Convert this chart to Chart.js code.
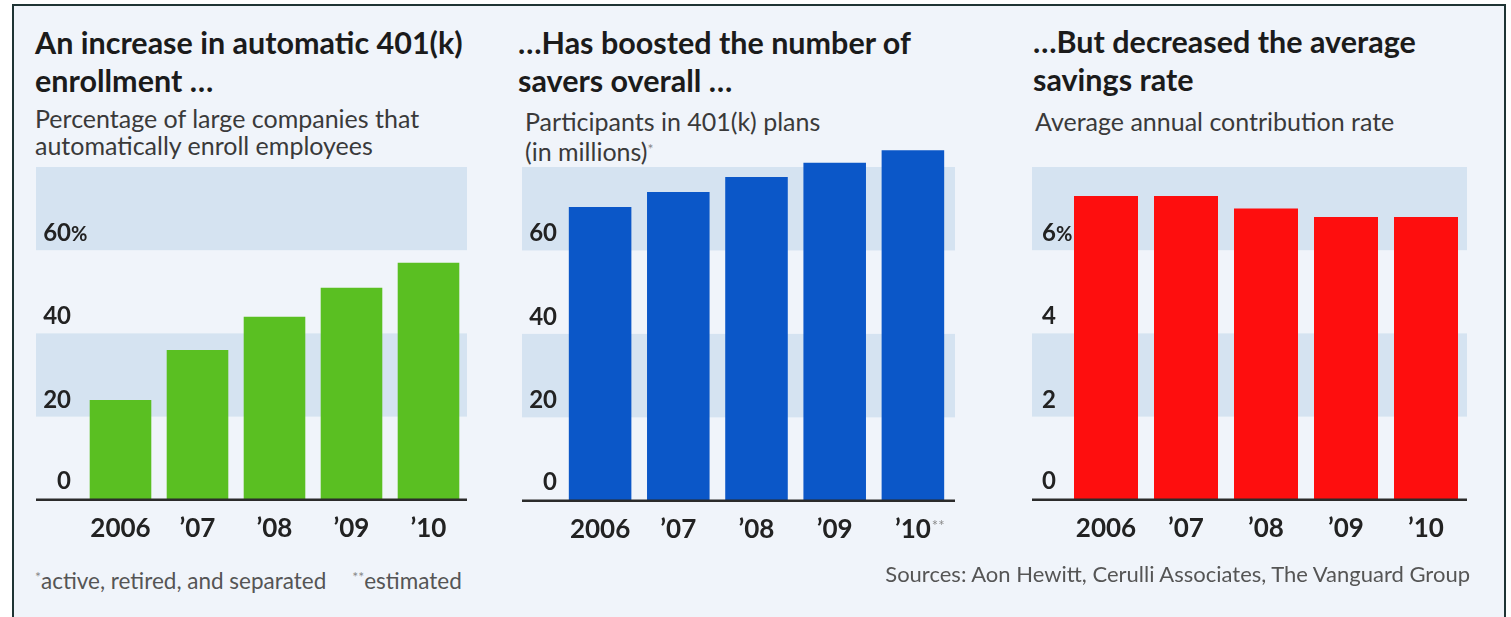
<!DOCTYPE html>
<html>
<head>
<meta charset="utf-8">
<script src="https://cdn.jsdelivr.net/npm/chart.js@4.4.0/dist/chart.umd.min.js"></script>
<style>
  body { margin: 0; background: #fff; font-family: Lato, "Open Sans", sans-serif; }
  #page { position: relative; width: 1511px; height: 617px; overflow: hidden; background: #fff; }
  #frame { position: absolute; left: 12px; top: 4px; width: 1490px; height: 640px; border: 2px solid #1f3434; background: #f0f4fa; }
  .box { position: absolute; }
  .title { position: absolute; font-weight: 700; font-size: 30.5px; line-height: 38px; color: #1b1b1b; white-space: nowrap; }
  .sub { position: absolute; font-size: 25px; line-height: 27px; color: #3a3a3a; white-space: nowrap; }
  .note { position: absolute; font-size: 22.5px; line-height: 26px; color: #555; white-space: nowrap; }
  .star { font-size: 14px; vertical-align: 7px; color: #888; }
</style>
</head>
<body>
<div id="page">
  <div id="frame"></div>

  <div class="title" style="left:35px; top:23px;">An increase in automatic 401(k)<br>enrollment …</div>
  <div class="sub" style="left:35px; top:105px;">Percentage of large companies that<br>automatically enroll employees</div>

  <div class="title" style="left:518px; top:23px;">…Has boosted the number of<br>savers overall …</div>
  <div class="sub" style="left:525px; top:108px;">Participants in 401(k) plans<br>(in millions)<span class="star">*</span></div>

  <div class="title" style="left:1033px; top:22px;">…But decreased the average<br>savings rate</div>
  <div class="sub" style="left:1035px; top:108px;">Average annual contribution rate</div>

  <div class="box" style="left:30px; top:150px;"><canvas id="chart1" width="450" height="414"></canvas></div>
  <div class="box" style="left:515px; top:150px;"><canvas id="chart2" width="450" height="414"></canvas></div>
  <div class="box" style="left:1020px; top:150px;"><canvas id="chart3" width="470" height="414"></canvas></div>

  <div class="note" style="left:35px; top:564px;"><span class="star">*</span>active, retired, and separated<span class="star" style="margin-left:26px;">**</span>estimated</div>
  <div class="note" style="right:41px; top:561px; font-size:22px;">Sources: Aon Hewitt, Cerulli Associates, The Vanguard Group</div>
</div>

<script>
// datos
const years = ['2006', '\u201907', '\u201908', '\u201909', '\u201910'];
const autoEnrollPct = [24, 36, 44, 51, 57];
const participantsMil = [70.4, 74, 77.6, 81, 84];
const contributionRate = [7.3, 7.3, 7.0, 6.8, 6.8];

const pctTicks = [0, 20, 40, 60];
const rateTicks = [0, 2, 4, 6];
const pctBands = [[20, 40], [60, 80]];
const rateBands = [[2, 4], [6, 8]];

const FONT = 'Lato, "Open Sans", sans-serif';

// bandas de fondo, linea base y etiquetas del eje y
function makeDecor(cfg) {
    return {
        id: 'panelDecor',
        beforeDatasetsDraw(chart) {
            const ctx = chart.ctx;
            const area = chart.chartArea;
            const y = chart.scales.y;
            const left = area.left - cfg.bandInset;
            const right = area.right + cfg.bandOut;
            ctx.save();
            ctx.fillStyle = '#d5e3f1';
            cfg.bands.forEach(function(b) {
                const top = y.getPixelForValue(b[1]);
                const bottom = y.getPixelForValue(b[0]);
                ctx.fillRect(left, top, right - left, bottom - top);
            });
            ctx.restore();
        },
        afterDatasetsDraw(chart) {
            const ctx = chart.ctx;
            const area = chart.chartArea;
            const y = chart.scales.y;
            const x = chart.scales.x;
            const left = area.left - cfg.bandInset;
            const right = area.right + cfg.bandOut;

            ctx.save();
            // linea base
            const y0 = y.getPixelForValue(0);
            ctx.strokeStyle = '#2b2b2b';
            ctx.lineWidth = 2.5;
            ctx.beginPath();
            ctx.moveTo(left, y0);
            ctx.lineTo(right, y0);
            ctx.stroke();

            // etiquetas del eje y
            ctx.fillStyle = '#222';
            ctx.textBaseline = 'alphabetic';
            const lx = area.left - cfg.labelGap;
            cfg.ticks.forEach(function(v, i) {
                const py = y.getPixelForValue(v) - (v === 0 ? 11 : 9);
                ctx.font = 'bold 24px ' + FONT;
                ctx.textAlign = 'right';
                ctx.fillText(String(v), lx, py);
                if (cfg.unit && i === cfg.ticks.length - 1) {
                    ctx.font = 'bold 20px ' + FONT;
                    ctx.textAlign = 'left';
                    ctx.fillText(cfg.unit, lx, py);
                }
            });

            // asteriscos de la ultima etiqueta
            if (cfg.lastMark) {
                const last = years.length - 1;
                ctx.font = 'bold 26px ' + FONT;
                const w = ctx.measureText(years[last]).width;
                ctx.font = '15px ' + FONT;
                ctx.fillStyle = '#888';
                ctx.textAlign = 'left';
                ctx.fillText(cfg.lastMark, x.getPixelForValue(last) + w / 2 + 1, y0 + 30);
            }
            ctx.restore();
        }
    };
}

function makeChart(id, values, color, yMax, padding, decor) {
    const ctx = document.getElementById(id).getContext('2d');
    return new Chart(ctx, {
        type: 'bar',
        data: {
            labels: years,
            datasets: [{
                data: values,
                backgroundColor: color,
                borderWidth: 0,
                barPercentage: 0.8,
                categoryPercentage: 1.0,
                clip: false
            }]
        },
        options: {
            responsive: false,
            animation: false,
            devicePixelRatio: 1,
            layout: { padding: padding },
            plugins: {
                legend: { display: false },
                tooltip: { enabled: false }
            },
            scales: {
                x: {
                    grid: { display: false, drawTicks: false },
                    border: { display: false },
                    ticks: {
                        color: '#222',
                        padding: 13,
                        font: { family: FONT, size: 26, weight: 'bold' }
                    }
                },
                y: {
                    display: false,
                    min: 0,
                    max: yMax
                }
            }
        },
        plugins: [makeDecor(decor)]
    });
}

// Crear los tres graficos de barras
makeChart('chart1', autoEnrollPct, '#5abf22', 80,
    { left: 52, right: 13, top: 17, bottom: 7 },
    { bands: pctBands, ticks: pctTicks, unit: '%', bandInset: 46, bandOut: 0, labelGap: 11 });

makeChart('chart2', participantsMil, '#0b57c8', 80,
    { left: 46, right: 13, top: 17, bottom: 6 },
    { bands: pctBands, ticks: pctTicks, unit: '', bandInset: 39, bandOut: 3, labelGap: 4, lastMark: '**' });

makeChart('chart3', contributionRate, '#fe0e0e', 8,
    { left: 46, right: 24, top: 17, bottom: 7 },
    { bands: rateBands, ticks: rateTicks, unit: '%', bandInset: 34, bandOut: 1, labelGap: 10 });
</script>
</body>
</html>
